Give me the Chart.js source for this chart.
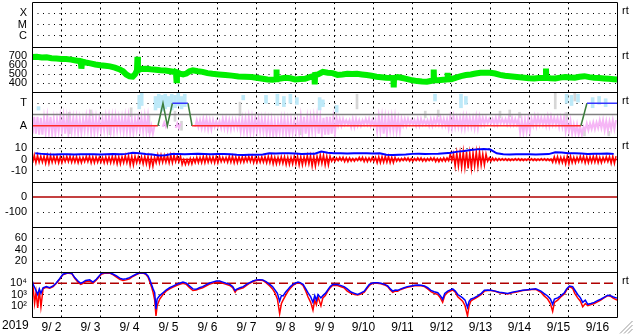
<!DOCTYPE html>
<html>
<head>
<meta charset="utf-8">
<script src="https://cdn.jsdelivr.net/npm/chart.js@4.4.1/dist/chart.umd.min.js"></script>
<style>
html, body { margin: 0; padding: 0; background: #fff; }
canvas { display: block; }
</style>
</head>
<body>
<canvas id="spaceWx" width="633" height="334"></canvas>
<script>
// time axis is hours since 2019-09-02 00:00 UT
var yearLabel = '2019';
var dayLabels = ['9/ 2', '9/ 3', '9/ 4', '9/ 5', '9/ 6', '9/ 7', '9/ 8', '9/ 9',
                 '9/10', '9/11', '9/12', '9/13', '9/14', '9/15', '9/16'];

// y tick labels per panel (top to bottom)
var xrayTicks = [-4, -5, -6], xrayLabels = ['X', 'M', 'C'];
var speedTicks = [700, 600, 500, 400];
var sectorTicks = [3, 1], sectorLabels = ['T', 'A'];
var imfTicks = [10, 0, -10];
var dstTicks = [0, -100];
var kpTicks = [60, 40, 20];
var fluxTicks = [4, 3, 2], fluxLabels = ['10\u2074', '10\u00b3', '10\u00b2'];

// solar wind speed (km/s)
var speedTimes = [0, 3, 6, 9, 12, 15, 18, 21, 24, 27,
  30, 30.4, 30.8, 33, 36, 39, 42, 45, 48, 51,
  54, 56, 58, 60, 62, 63.5, 64.6, 64.9, 65.2, 67,
  70, 73, 76, 79, 82, 85, 88.6, 88.9, 89.2, 91,
  93, 95, 97, 99, 102, 105, 108, 111, 115, 119,
  123, 127, 131, 135, 139, 142, 145, 148, 150.2, 150.4,
  150.6, 153, 156, 159, 162, 165, 168, 171, 173.8, 174,
  174.2, 176, 179, 182, 185, 188, 191, 194, 197, 200,
  203, 206, 209, 212, 215, 218, 222.4, 222.6, 222.8, 225,
  228, 231, 234, 237, 240, 243, 246, 247, 247.2, 247.4,
  250, 253, 255.6, 255.8, 256, 258, 261, 264, 267, 270,
  273, 276, 279, 282, 285, 288, 291, 294, 297, 300,
  303, 306, 309, 312, 316.1, 316.3, 316.5, 319, 322, 325,
  328, 331, 334, 337, 340, 343, 346, 349, 352, 355,
  358, 360];
var speedValues = [688, 692, 684, 686, 676, 672, 668, 666, 660, 650,
  640, 560, 638, 628, 618, 606, 598, 592, 585, 570,
  550, 530, 495, 475, 472, 500, 540, 690, 540, 555,
  558, 552, 548, 542, 538, 530, 520, 430, 518, 505,
  495, 505, 530, 540, 530, 524, 510, 502, 495, 488,
  482, 473, 470, 466, 455, 447, 440, 436, 442, 550,
  445, 450, 458, 452, 440, 445, 447, 465, 480, 385,
  490, 495, 524, 515, 510, 490, 495, 502, 500, 502,
  495, 488, 480, 470, 465, 458, 455, 350, 455, 466,
  455, 443, 430, 421, 416, 414, 425, 430, 550, 432,
  430, 435, 440, 513, 440, 442, 460, 476, 488, 495,
  505, 513, 515, 513, 505, 490, 480, 476, 470, 465,
  458, 452, 451, 455, 458, 560, 458, 452, 450, 460,
  466, 462, 458, 470, 476, 465, 458, 455, 451, 446,
  442, 440];

// IMF sector (A = 1, T = 3)
var sectorTimes = [0, 77.5, 80.6, 83.3, 86.4, 96, 98.5, 337.8, 341.5, 360];
var sectorValues = [1, 1, 3, 1, 3, 3, 1, 1, 3, 3];
var sectorBoundary = 2;

// 4-hour bins
var binTimes = Array.from({ length: 90 }, function (_, i) { return 4 * i + 2; });
var phiLo = [0.3, 0.2, 0.4, 0.3, 0.5, 0.3, 0.5, 0.4, 0.6, 0.4, 0.5, 0.6,
  0.5, 0.6, 0.5, 0.4, 0.6, 0.5, 0.3, null, 0.9, null, 0.8, null, null,
  0.9, 0.8, 0.7, 0.9, 0.8, 0.7, 0.8, 0.5, 0.4, 0.5, 0.5, 0.3, 0.2, 0.4, 0.3, 0.4,
  0.4, 0.3, 0.5, 0.3, 0.2, 0.3, 1.0, 1.1, 0.9, 1.0, 1.1, 1.0, 0.5, 0.3, 0.6, 0.5,
  1.0, 1.1, 1.0, 1.1, 1.0, 1.1, 1.0, 0.8, 0.9, 0.8, 0.9, 0.8,
  1.1, 1.2, 1.1, 1.2, 1.1, 1.1, 0.4, 0.5, 1.0, 1.1, 1.0, 1.1, 0.9, 0.5, 0.3, 0.2,
  0.6, 0.7, 0.8, 0.6, 0.7];
var phiHi = [1.8, 1.7, 1.8, 1.6, 1.8, 1.7, 1.7, 1.6, 1.8, 1.7, 1.6, 1.8,
  1.8, 1.7, 1.8, 1.6, 1.7, 1.8, 1.0, null, 1.3, null, 1.2, null, null,
  1.5, 1.6, 1.5, 1.4, 1.6, 1.5, 1.5, 1.6, 1.7, 1.6, 1.6, 1.5, 1.4, 1.6, 1.5, 1.4,
  1.8, 1.7, 1.8, 1.7, 1.8, 1.7, 1.6, 1.5, 1.6, 1.5, 1.6, 1.5, 1.8, 1.7, 1.8, 1.6,
  1.6, 1.5, 1.6, 1.5, 1.6, 1.7, 1.6, 1.8, 1.7, 1.8, 1.7, 1.8,
  1.7, 1.6, 1.7, 1.6, 1.7, 1.6, 1.5, 1.6, 1.8, 1.7, 1.8, 1.7, 1.7, 1.4, 1.1, 0.9,
  1.2, 1.3, 1.5, 1.4, 1.5];

// toward-colored and uncertain phi samples
var towardTimes = [4, 66, 67.5, 76, 78, 80, 82, 84, 86, 88, 90, 92, 94, 130, 144, 151, 155, 159, 163,
  177, 179, 187.5, 248, 264, 267, 329, 332, 336, 345, 349, 353];
var towardLo = [2.4, 2.5, 2.8, 2.4, 2.6, 2.3, 2.5, 2.7, 2.4, 2.6, 2.8, 2.5, 2.7, 3.3, 3.0, 2.8, 2.7, 3.0, 2.9,
  2.4, 2.7, 2.2, 3.2, 2.6, 2.9, 3.0, 2.8, 3.1, 2.6, 2.9, 2.7];
var towardHi = [2.7, 3.7, 3.9, 3.6, 3.8, 3.7, 3.8, 3.6, 3.8, 3.7, 3.9, 3.6, 3.8, 3.7, 3.7, 3.8, 3.6, 3.8, 3.5,
  3.5, 3.3, 2.8, 3.8, 3.8, 3.6, 3.8, 3.7, 3.8, 3.5, 3.6, 3.4];
var unsureTimes = [23, 36, 48, 61, 72, 88, 92, 128, 165, 200, 242, 250, 288, 294, 300, 322, 329, 334, 340, 355];
var unsureLo = [0.3, 1.9, 0.2, 1.8, 0.4, 1.4, 0.6, 1.9, 0.2, 2.5, 1.7, 1.8, 1.7, 1.8, 1.7, 2.5, 1.0, 3.2, 0.1, 0.1];
var unsureHi = [2.2, 2.4, 1.0, 2.6, 1.9, 2.3, 1.4, 3.1, 0.9, 3.8, 2.3, 2.4, 2.3, 2.4, 2.2, 4.0, 2.2, 4.0, 0.6, 0.5];

// IMF Bt (nT), per 4-hour bin
var btValues = [5.5, 5.0, 4.6, 4.5, 4.7, 4.6, 4.5, 4.6, 4.7, 4.6, 4.5, 4.6, 4.8, 4.7, 5.0,
  6.0, 5.5, 4.8, 4.5, 3.6, 3.8, 4.8, 4.9, 4.7, 4.8, 5.0, 4.8, 4.7, 4.9, 4.8, 4.6,
  4.2, 4.1, 4.3, 4.2, 4.4, 5.5, 5.4, 5.6, 5.5, 5.3, 5.0, 5.1, 5.2, 7.0, 6.0,
  5.5, 5.6, 5.4, 5.5, 5.5, 5.6, 5.4, 5.5, 4.2, 4.1, 4.3, 4.4, 5.0, 5.1, 4.9, 5.0, 5.2, 5.6,
  6.0, 7.0, 7.5, 8.5, 9.0, 9.3, 8.8, 5.5, 4.6, 4.5, 4.6, 4.7, 4.6, 4.5, 4.6, 4.8,
  6.5, 6.2, 5.5, 5.6, 5.4, 5.0, 5.2, 5.1, 5.3, 5.0];
// IMF Bz range (nT), per 4-hour bin
var bzLo = [-3, -2.5, -3.5, -2.5, -3, -2, -2.5, -3, -2, -3, -2.5, -3,
  -3, -4, -3, -5, -3, -4, -6, -3, -2.5, -3, -2, -4.5, -4, -3,
  -3, -2.5, -3, -2, -2.5, -3, -2.5, -2, -3, -2.5, -3, -4, -3.5, -4.5,
  -4, -5, -4, -6, -3.5, -5, -1.5, -1, -2, -1.5, -1, -2, -1.5, -3, -2.5, -3,
  -1.5, -1, -1.5, -1, -1.5, -1, -2, -1.5, -1, -6, -7, -8, -6, -5, -1.5, -1,
  -0.8, -1, -0.8, -1, -0.8, -1, -0.8, -1, -2.5, -3, -4, -3, -2, -3, -2.5, -3, -2, -3.5];
var bzHi = [4, 3, 3.5, 3, 2.5, 3, 2.5, 2, 3, 2.5, 2, 2.5,
  3, 2.5, 3.5, 3, 2.5, 3, 2, 4, 3.5, 4, 3, 0, 1, 2,
  3, 2.5, 3, 2, 3, 2.5, 2.5, 3, 2, 2.5, 3, 2, 2.5, 2,
  3, 2.5, 3.5, 3, 4, 3, 1.5, 2, 1.5, 1, 2, 1.5, 2, 2.5, 3, 2,
  1, 1.5, 1, 1.5, 1, 1.5, 1, 1.5, 5, 6, 7, 6, 7, 5, 1.5, 1,
  0.8, 0.5, 0.8, 0.5, 0.8, 0.5, 0.8, 0.5, 2.5, 2, 3, 2, 3, 2.5, 3, 2, 2.5, 3];

// electron flux, log10
var fluxTimes = [0, 0.6, 1.6, 2.5, 3.5, 4.5, 5.5, 6.8, 8.8, 10.9,
  13, 15, 17, 19, 22, 24.5, 26.3, 28.3, 30, 31.4,
  33, 35.5, 37.5, 39.6, 42.7, 45, 47.8, 50, 52, 54,
  56, 58, 60, 62, 64, 66, 68.3, 70, 71.4, 72.5,
  73.5, 74.5, 75.5, 76.3, 77, 78.6, 80.6, 82.5, 84.7, 86.8,
  88.9, 90.9, 92.9, 95, 97, 99, 101, 103, 105, 107,
  109, 111, 113.5, 115.5, 117.5, 119.5, 121.7, 123.5, 125, 125.8,
  128, 130, 132, 134, 136, 138, 140, 142, 144, 146.3,
  148, 149.3, 151, 152.4, 153.5, 154.5, 156, 157.6, 159, 160.6,
  162, 163.7, 165, 166.8, 168.5, 169.8, 171.5, 172.9, 174, 175,
  176, 177.8, 179, 180.5, 182, 183.5, 185, 188, 192, 194,
  196.3, 198.5, 200.4, 202.5, 204.5, 206, 207.6, 209, 210.7, 212.5,
  214.8, 217, 218.9, 220.5, 222, 223.5, 225, 227, 229, 231,
  233.3, 235.5, 237.4, 239.5, 241.5, 243.5, 245.5, 247.5, 249.7, 251.3,
  252.7, 254, 255.8, 258.9, 260.5, 262, 263.5, 265, 266.5, 268,
  269, 270, 272, 274.3, 276.5, 278.4, 280.5, 282.5, 285, 287.6,
  290, 292.7, 295.5, 298.9, 302, 305, 307.5, 310, 313.2, 315,
  317.3, 319, 320.4, 321.5, 323.5, 325.5, 327.6, 329, 330.7, 332.7,
  334, 335.8, 337.5, 338.9, 340.5, 342, 344, 346, 348, 350,
  352, 354.3, 356, 357.4, 359.4, 360];
var fluxBlue = [4.35, 3.93, 3.64, 3.34, 3.0, 3.5, 3.1, 3.6, 3.7, 3.6,
  3.76, 4.05, 4.4, 4.8, 4.94, 4.88, 4.5, 4.2, 4.0, 4.1,
  4.25, 4.3, 4.1, 4.35, 4.88, 4.95, 4.94, 4.8, 4.65, 4.45,
  4.35, 4.4, 4.5, 4.65, 4.8, 4.92, 4.94, 4.85, 4.65, 4.3,
  3.9, 3.5, 3.16, 1.7, 2.6, 2.9, 3.16, 3.4, 3.6, 3.75,
  3.9, 4.0, 4.1, 4.0, 3.75, 3.5, 3.46, 3.6, 3.7, 3.85,
  4.0, 4.1, 4.2, 4.2, 4.1, 4.0, 3.9, 3.7, 3.35, 3.46,
  3.6, 3.7, 3.9, 4.05, 4.2, 4.3, 4.32, 4.3, 4.15, 3.9,
  3.7, 3.46, 3.1, 2.4, 2.9, 2.87, 3.2, 3.46, 3.7, 3.9,
  4.0, 4.1, 4.05, 3.9, 3.5, 3.16, 2.8, 2.3, 2.9, 2.5,
  3.0, 2.7, 2.9, 3.1, 3.4, 3.7, 3.9, 3.9, 3.7, 3.5,
  3.22, 3.1, 3.0, 3.15, 3.3, 3.6, 3.9, 4.0, 4.05, 4.05,
  4.0, 3.9, 3.76, 3.5, 3.3, 3.4, 3.37, 3.5, 3.6, 3.7,
  3.76, 3.82, 3.85, 3.82, 3.76, 3.6, 3.37, 3.25, 3.16, 2.9,
  2.58, 3.1, 3.3, 3.5, 3.3, 3.0, 2.85, 2.7, 2.5, 1.85,
  2.4, 2.58, 2.7, 2.87, 3.1, 3.37, 3.4, 3.37, 3.3, 3.2,
  3.15, 3.1, 3.2, 3.3, 3.38, 3.43, 3.47, 3.5, 3.3, 3.1,
  2.87, 2.6, 2.13, 2.6, 2.7, 2.9, 3.16, 3.5, 3.76, 3.7,
  3.4, 3.0, 2.7, 2.3, 2.5, 2.13, 2.2, 2.3, 2.45, 2.58,
  2.75, 2.94, 2.9, 2.8, 2.7, 2.68];
var fluxRed = [4.3, 3.8, 2.2, 3.2, 1.8, 3.4, 1.9, 3.5, 3.65, 3.55,
  3.7, 4.0, 4.35, 4.75, 4.9, 4.85, 4.45, 4.1, 3.9, 4.0,
  4.15, 4.2, 4.0, 4.3, 4.8, 4.9, 4.9, 4.75, 4.55, 4.35,
  4.25, 4.3, 4.4, 4.6, 4.75, 4.88, 4.9, 4.8, 4.55, 4.1,
  3.7, 3.2, 2.5, 1.1, 2.0, 2.6, 3.0, 3.3, 3.5, 3.65,
  3.8, 3.9, 4.0, 3.9, 3.6, 3.35, 3.4, 3.5, 3.6, 3.75,
  3.9, 4.0, 4.1, 4.1, 4.0, 3.9, 3.8, 3.6, 3.2, 3.4,
  3.5, 3.6, 3.8, 4.0, 4.15, 4.25, 4.28, 4.25, 4.05, 3.75,
  3.5, 3.2, 2.6, 1.3, 2.2, 2.5, 2.9, 3.3, 3.55, 3.8,
  3.95, 4.05, 4.0, 3.8, 3.3, 2.8, 2.3, 1.6, 2.5, 2.1,
  2.8, 2.0, 2.7, 2.9, 3.3, 3.6, 3.8, 3.8, 3.6, 3.3,
  3.1, 3.0, 2.95, 3.05, 3.2, 3.5, 3.8, 3.95, 4.0, 4.0,
  3.95, 3.85, 3.7, 3.4, 3.2, 3.3, 3.3, 3.45, 3.55, 3.65,
  3.72, 3.78, 3.8, 3.78, 3.7, 3.5, 3.25, 3.1, 3.0, 2.7,
  2.3, 2.9, 3.2, 3.4, 3.2, 2.8, 2.6, 2.4, 2.0, 1.1,
  2.0, 2.4, 2.6, 2.8, 3.0, 3.3, 3.35, 3.35, 3.28, 3.15,
  3.1, 3.05, 3.15, 3.25, 3.35, 3.4, 3.45, 3.45, 3.2, 2.9,
  2.6, 2.2, 1.5, 2.3, 2.5, 2.8, 3.05, 3.4, 3.7, 3.55,
  3.1, 2.7, 2.4, 1.9, 2.2, 2.0, 2.1, 2.2, 2.35, 2.5,
  2.7, 2.9, 2.85, 2.7, 2.55, 2.5];
var fluxAlert = 4;

var panelIds = ['yX', 'yV', 'yS', 'yB', 'yD', 'yK', 'yE']; // top to bottom
var rtPanels = ['yX', 'yV', 'yS', 'yB', 'yE'];

function pts(times, vals) {
  return times.map(function (t, i) { return { x: t, y: vals[i] }; });
}
function ranges(times, lo, hi) {
  var out = [];
  times.forEach(function (t, i) {
    if (lo[i] !== null) out.push({ x: t, y: [lo[i], hi[i]] });
  });
  return out;
}
// each bin's low and high drawn as a zig-zag trace, like the raw 1-min samples
function zigzag(times, lo, hi) {
  var out = [];
  times.forEach(function (t, i) {
    if (lo[i] === null) { out.push({ x: t, y: null }); return; }
    out.push({ x: t - 1.6, y: lo[i] }, { x: t - 0.6, y: hi[i] }, { x: t + 0.4, y: lo[i] }, { x: t + 1.4, y: hi[i] });
  });
  return out;
}
function flat(v) { return [{ x: 0, y: v }, { x: 360, y: v }]; }

function panelAxis(min, max, tickVals, tickLabels, dotted) {
  return {
    type: 'linear', position: 'left', stack: 'panels', stackWeight: 1,
    min: min, max: max,
    afterFit: function (s) { s.width = 32; s.paddingTop = 0; s.paddingBottom = 0; },
    afterBuildTicks: function (s) { s.ticks = tickVals.map(function (v) { return { value: v }; }); },
    ticks: {
      autoSkip: false, padding: 5, color: '#000', font: { size: 11 },
      callback: function (v, i) { return tickLabels[i]; }
    },
    grid: {
      drawTicks: false, lineWidth: 1,
      color: function (c) { return c.tick && dotted.indexOf(c.tick.value) >= 0 ? '#000' : 'rgba(0,0,0,0)'; }
    },
    border: { display: false, dash: [1, 4.5] }
  };
}

var halfDays = [];
for (var h = 0; h <= 360; h += 12) halfDays.push(h);

var framePlugin = {
  id: 'frame',
  afterDatasetsDraw: function (chart) {
    var ctx = chart.ctx, a = chart.chartArea;
    var L = Math.round(a.left) + 0.5, R = Math.round(a.right) + 0.5;
    ctx.save();
    ctx.strokeStyle = '#000';
    ctx.lineWidth = 1;
    ctx.beginPath();
    panelIds.forEach(function (id) {
      var y = Math.round(chart.scales[id].top) + 0.5;
      ctx.moveTo(L, y); ctx.lineTo(R, y);
    });
    var yb = Math.round(a.bottom) + 0.5;
    ctx.moveTo(L, yb); ctx.lineTo(R, yb);
    ctx.moveTo(L, Math.round(a.top) + 0.5); ctx.lineTo(L, yb);
    ctx.moveTo(R, Math.round(a.top) + 0.5); ctx.lineTo(R, yb);
    ctx.stroke();

    ctx.fillStyle = '#000';
    ctx.font = '11px "Liberation Sans", Arial, sans-serif';
    ctx.textBaseline = 'middle';
    ctx.textAlign = 'left';
    rtPanels.forEach(function (id) {
      ctx.fillText('rt', a.right + 5, chart.scales[id].top + 9);
    });
    ctx.font = '12px "Liberation Sans", Arial, sans-serif';
    ctx.fillText(yearLabel, 2, a.bottom + 9);

    // size grip
    ctx.strokeStyle = '#9a9a9a';
    ctx.beginPath();
    [0, 4, 8].forEach(function (d) {
      ctx.moveTo(620 + d, 333.5); ctx.lineTo(632.5, 321 + d);
    });
    ctx.stroke();
    ctx.restore();
  }
};

Chart.defaults.font.family = '"Liberation Sans", Arial, sans-serif';
Chart.defaults.color = '#000';

var sectorRed = '#ff2a2a', sectorBlue = '#3535ff', sectorGreen = '#3c7d3c';

new Chart(document.getElementById('spaceWx').getContext('2d'), {
  type: 'line',
  data: {
    datasets: [
      { data: pts(speedTimes, speedValues), yAxisID: 'yV', borderColor: '#00ee00', borderWidth: 6, order: 1 },

      { data: pts(sectorTimes, sectorValues), yAxisID: 'yS', borderWidth: 1.5, order: 0,
        segment: { borderColor: function (c) {
          var a = c.p0.parsed.y, b = c.p1.parsed.y;
          if (a !== b) return sectorGreen;
          return a === 1 ? sectorRed : sectorBlue;
        } } },
      { data: flat(sectorBoundary), yAxisID: 'yS', borderColor: '#808080', borderWidth: 1.5, order: 2 },
      { data: zigzag(binTimes, phiLo, phiHi), yAxisID: 'yS', borderColor: '#f6b6f6', borderWidth: 2, order: 4 },
      { type: 'bar', data: ranges(towardTimes, towardLo, towardHi), yAxisID: 'yS', backgroundColor: '#bde9f8',
        barThickness: 3, grouped: false, order: 5 },
      { type: 'bar', data: ranges(unsureTimes, unsureLo, unsureHi), yAxisID: 'yS', backgroundColor: '#d6d6d6',
        barThickness: 2, grouped: false, order: 6 },

      { data: pts(binTimes, btValues), yAxisID: 'yB', borderColor: '#0000ff', borderWidth: 2, order: 1 },
      { data: zigzag(binTimes, bzLo, bzHi), yAxisID: 'yB', borderColor: '#ff0000', borderWidth: 1.5, order: 2 },
      { data: flat(0), yAxisID: 'yB', borderColor: '#e00000', borderWidth: 1.5, order: 3 },

      { data: flat(0), yAxisID: 'yD', borderColor: '#b00000', borderWidth: 1.5, order: 1 },

      { data: pts(fluxTimes, fluxBlue), yAxisID: 'yE', borderColor: '#0000ff', borderWidth: 1.5, order: 1 },
      { data: pts(fluxTimes, fluxRed), yAxisID: 'yE', borderColor: '#ff0000', borderWidth: 1.5, order: 2 },
      { data: flat(fluxAlert), yAxisID: 'yE', borderColor: '#b00000', borderWidth: 1.5, borderDash: [9, 4], order: 3 }
    ]
  },
  options: {
    responsive: false,
    animation: false,
    devicePixelRatio: 1,
    layout: { padding: { left: 0, top: 2, right: 16, bottom: 0 } },
    elements: { point: { radius: 0 }, line: { tension: 0, fill: false }, bar: { borderWidth: 0 } },
    plugins: { legend: { display: false }, tooltip: { enabled: false } },
    scales: {
      x: {
        type: 'linear', position: 'bottom', min: 0, max: 360, offset: false,
        afterFit: function (s) { s.height = 17; s.paddingLeft = 0; s.paddingRight = 0; },
        afterBuildTicks: function (s) { s.ticks = halfDays.map(function (v) { return { value: v }; }); },
        ticks: {
          autoSkip: false, maxRotation: 0, minRotation: 0, padding: 3, color: '#000', font: { size: 12 },
          callback: function (v) { return v % 24 === 12 ? dayLabels[(v - 12) / 24] : ''; }
        },
        grid: {
          drawTicks: false, lineWidth: 1,
          color: function (c) {
            return c.tick && c.tick.value % 24 === 0 && c.tick.value > 0 && c.tick.value < 360 ? '#000' : 'rgba(0,0,0,0)';
          }
        },
        border: { display: false, dash: [2, 3.5] }
      },
      // defined bottom to top
      yE: panelAxis(1, 5, fluxTicks, fluxLabels, [3, 2]),
      yK: panelAxis(0, 80, kpTicks, kpTicks, [60, 40, 20]),
      yD: panelAxis(-200, 100, dstTicks, dstTicks, [-100]),
      yB: panelAxis(-20, 20, imfTicks, imfTicks, [10, -10]),
      yS: panelAxis(0, 4, sectorTicks, sectorLabels, [3, 1]),
      yV: panelAxis(300, 800, speedTicks, speedTicks, speedTicks),
      yX: panelAxis(-7, -3, xrayTicks, xrayLabels, xrayTicks)
    }
  },
  plugins: [framePlugin]
});
</script>
</body>
</html>
